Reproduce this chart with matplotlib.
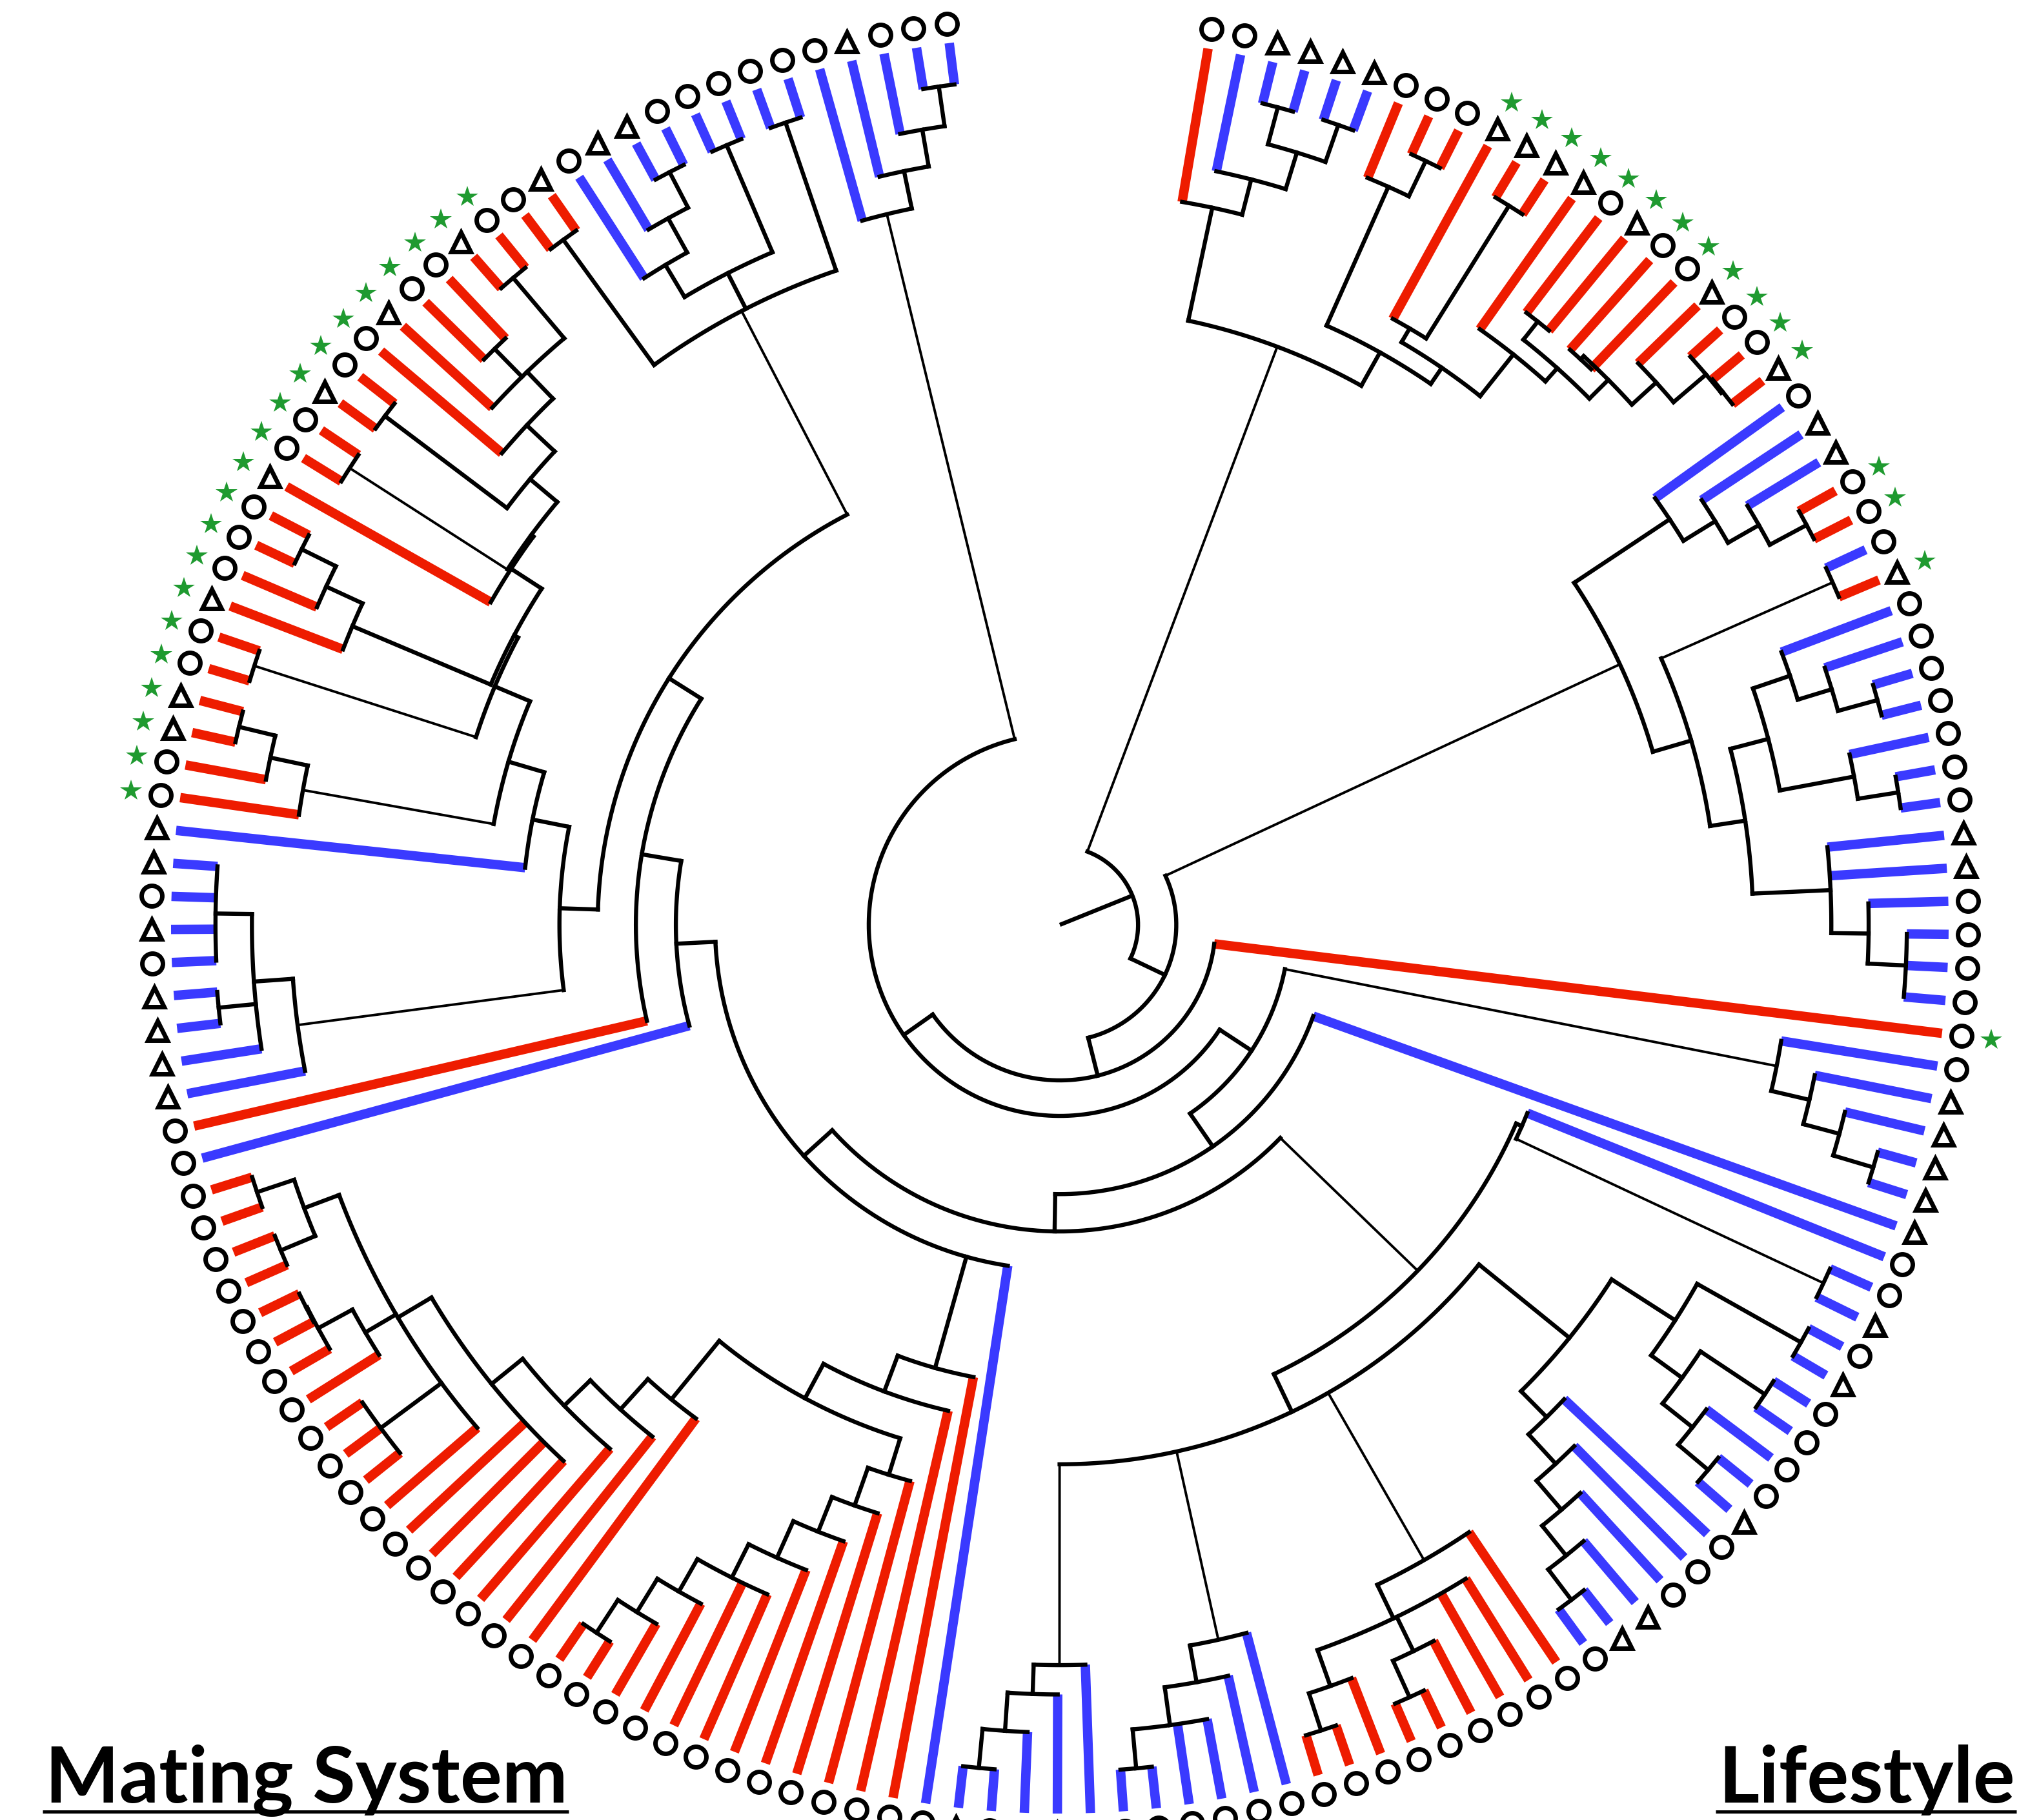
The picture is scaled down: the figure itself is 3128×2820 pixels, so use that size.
import numpy as np
import matplotlib
matplotlib.use("Agg")
import matplotlib.pyplot as plt

RED = "#ee1c00"
BLUE = "#3a3aff"
GREEN = "#1f9a30"

# canvas / tree geometry (pixels)
W, H = 3128, 2820
CX, CY = 1642, 1433      # centre of the circular tree
RAD = 1377               # radius of the tip ring
FIRST_ANGLE = 80.4       # angle of tip 1 (deg, counter-clockwise from east)
STEP = 2.132             # angle between neighbouring tips, clockwise

# ---- tree -------------------------------------------------------------
# tips are numbered clockwise from the gap at the top,
# the number after ")" is the radius of that node (1.0 = tip ring)
clade_a1 = "(1,(2,((3,4)0.952,(5,6)0.953)0.909)0.866)0.825"
clade_a2 = ("((7,(8,9)0.953)0.909,((10,(11,12)0.954)0.778,(13,((14,15)0.866,"
            "((16,17)0.865,(18,(19,(20,21)0.957)0.955)0.907)0.87)0.84)0.82)0.76)0.738")
clade_22 = "(22,(23,(24,(25,26)0.953)0.906)0.866)0.824"
clade_27 = ("((27,28)0.951,(((29,(30,(31,32)0.954)0.908)0.868,(33,(34,35)0.955)0.909)0.824,"
            "(36,37,(38,(39,40,41)0.953)0.91)0.868)0.78)0.74")
clade_43 = "(43,(44,(45,(46,47)0.955)0.908)0.866)0.822"
clade_49 = "(49,(50,51)0.949)0.567"
clade_52 = "((52,53)0.957,((54,55)0.953,(56,(57,58)0.953)0.909)0.866)0.823"
clade_59 = "(59,(60,(61,(62,(63,64)0.953)0.91)0.867)0.824)0.779"
clade_65 = "(65,(66,67,(68,(69,70)0.954)0.909,(71,(72,73)0.953)0.909)0.866)0.824"
clade_74 = "(74,(75,(76,77,(78,79)0.953)0.909)0.866)0.824"
clade_80 = "(80,(81,(82,(83,84)0.953)0.909)0.866)0.833"
clade_88 = "(88,(89,(90,(91,(92,93,(94,(95,(96,97)0.952)0.908)0.864)0.822)0.78)0.735)0.693)0.648"
clade_98 = ("(98,(99,(100,(101,102,103,(104,(105,106,107)0.951,(108,(109,(110,111)0.951)0.95)0.906,"
            "((112,113)0.95,(114,115)0.952)0.908)0.866)0.822)0.777)0.736)0.69")
clade_118 = "(118,(119,(120,121)0.951,(122,123,124,125)0.95)0.909)0.865"
clade_127 = "(127,(128,(129,130)0.95)0.908)0.865"
clade_131 = ("((131,132)0.952,((133,(134,(135,136)0.952)0.909)0.864,(137,((138,139)0.95,"
             "((140,141)0.951,(142,(143,(144,145)0.908,(146,147)0.953)0.864)0.822)0.779)0.739)0.736)0.695)0.69")
clade_148 = ("((148,149)0.952,((150,(151,(152,153)0.954)0.909)0.865,(154,155)0.954)0.823,"
             "(156,157)0.954)0.778")
clade_158 = "(158,(159,(160,(161,162)0.953)0.908)0.866)0.823"

# backbone
left = f"(126,({clade_127},{clade_131})0.647)0.605"
left = f"({clade_118},{left})0.563"
left = f"(116,(117,({left},{clade_148})0.52)0.477)0.432"
bottom = f"(85,(86,(87,({clade_88},{clade_98})0.605)0.561)0.518,{left})0.388"
lower = (f"({clade_49},(({clade_52},{clade_59})0.738,"
         f"{clade_65},{clade_74},{clade_80})0.607)0.56")
inner = f"({clade_43},(48,({lower},{bottom})0.345)0.303)0.258"
tree = (f"(({clade_a1},{clade_a2})0.695,(({clade_22},{clade_27})0.695,"
        f"(42,({inner},{clade_158})0.215)0.175)0.131)0.088")

# terminal branch colour per tip (r = red, b = blue), tips 1..162
tip_state = ("r" + "b" * 5 + "r" * 15 + "b" * 3 + "rr" + "b" + "r" + "b" * 13 + "r"
             + "b" * 22 + "r" * 9 + "b" * 12 + "r" * 30 + "b" + "r" + "b" * 9
             + "r" * 23 + "b" * 13)
# marker per tip (o = circle, ^ = triangle)
tip_shape = ("oo" "^^^^" "ooo" "^^^^" "o" "^" "oo" "^" "oo" "^" "o" "^^" "ooo" "^"
             "ooooooo" "^^" "oooooo" "^^^^^" "oo" "^" "o" "^" "oooo" "^" "ooo" "^^"
             + "o" * 17 + "^" "oo" "^" + "o" * 33 +
             "^^^^" "o" "^" "o" "^^" "oo" "^^" "oo" "^" "ooo" "^" "oo" "^" "oo" "^"
             "oo" "^" "oo" "^" "o" "^^" "oooooo" "^" "ooo")
# tips carrying a green star
star_tips = list(range(10, 22)) + [25, 26, 28, 42] + list(range(127, 148))


def parse(s):
    pos = 0

    def node():
        nonlocal pos
        if s[pos] == "(":
            pos += 1
            kids = [node()]
            while s[pos] == ",":
                pos += 1
                kids.append(node())
            pos += 1
            j = pos
            while pos < len(s) and s[pos] not in ",)":
                pos += 1
            return {"kids": kids, "r": float(s[j:pos])}
        j = pos
        while s[pos] not in ",)":
            pos += 1
        return {"tip": int(s[j:pos]), "r": 1.0}

    return node()


def place(n):
    if "tip" in n:
        n["a"] = FIRST_ANGLE - (n["tip"] - 1) * STEP
    else:
        for k in n["kids"]:
            place(k)
        n["a"] = 0.5 * (n["kids"][0]["a"] + n["kids"][-1]["a"])


def xy(r, a):
    t = np.radians(a)
    return CX + RAD * r * np.cos(t), CY - RAD * r * np.sin(t)


root = parse(tree)
place(root)

fig = plt.figure(figsize=(W / 100, H / 100), dpi=100)
ax = fig.add_axes([0, 0, 1, 1])
ax.set_xlim(0, W)
ax.set_ylim(H, 0)
ax.axis("off")

THICK, THIN, TERM = 4.6, 2.8, 10.5


def draw(n):
    if "tip" in n:
        return
    a0, a1 = n["kids"][0]["a"], n["kids"][-1]["a"]
    aa = np.linspace(a0, a1, max(2, int(abs(a1 - a0) * 4)))
    x, y = xy(n["r"], aa)
    ax.plot(x, y, color="k", lw=THICK, solid_capstyle="projecting", zorder=3)
    for k in n["kids"]:
        x, y = xy(np.array([n["r"], k["r"]]), k["a"])
        if "tip" in k:
            c = RED if tip_state[k["tip"] - 1] == "r" else BLUE
            ax.plot(x, y, color=c, lw=TERM, solid_capstyle="butt", zorder=2)
        else:
            lw = THIN if k["r"] - n["r"] > 0.2 else THICK
            ax.plot(x, y, color="k", lw=lw, solid_capstyle="projecting", zorder=3)
        draw(k)


# root stem
x, y = xy(np.array([0.0, root["r"]]), root["a"])
ax.plot(x, y, color="k", lw=THICK, solid_capstyle="butt", zorder=3)
draw(root)

# tip symbols
tips = np.arange(1, 163)
ang = FIRST_ANGLE - (tips - 1) * STEP
for shape, ms in (("o", 23), ("^", 22)):
    sel = np.array([s == shape for s in tip_shape])
    mx, my = xy(1.022, ang[sel])
    ax.plot(mx, my, ls="none", marker=shape, ms=ms, mfc="white", mec="k", mew=5.0, zorder=4)
sx, sy = xy(1.056, FIRST_ANGLE - (np.array(star_tips) - 1) * STEP)
ax.plot(sx, sy, ls="none", marker="*", ms=25, color=GREEN, mew=0, zorder=4)

# titles with underline
t1 = ax.text(70, 2793, "Mating System", fontsize=80, fontweight="bold",
             family=["Lato", "DejaVu Sans"], va="baseline", ha="left")
t2 = ax.text(3122, 2793, "Lifestyle", fontsize=80, fontweight="bold",
             family=["Lato", "DejaVu Sans"], va="baseline", ha="right")
fig.canvas.draw()
w = t1.get_window_extent().width
for t in (t1, t2):
    t.set_fontsize(80 * 810 / w)
fig.canvas.draw()
inv = ax.transData.inverted()
for t in (t1, t2):
    bb = t.get_window_extent()
    (x0, _), (x1, _) = inv.transform([[bb.x0, bb.y0], [bb.x1, bb.y0]])
    ax.plot([x0 - 4, min(x1 + 2, W - 4)], [2807, 2807], color="k", lw=3.6, solid_capstyle="butt")

fig.savefig("out.png", dpi=100)
